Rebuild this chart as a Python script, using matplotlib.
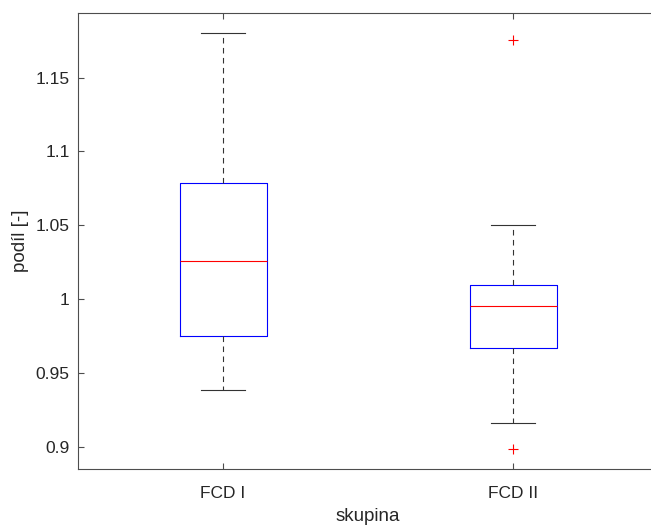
import matplotlib
matplotlib.use("Agg")
import matplotlib.pyplot as plt

groups = ["FCD I", "FCD II"]
q1 = [0.975, 0.967]
med = [1.0255, 0.995]
q3 = [1.0785, 1.0095]
whislo = [0.938, 0.916]
whishi = [1.18, 1.050]
outliers = [[], [1.1755, 0.8985]]

plt.rcParams["font.family"] = ["Liberation Sans", "DejaVu Sans"]

fig = plt.figure(figsize=(6.51, 5.25), dpi=100)
ax = fig.add_axes([78 / 651, 1 - 469 / 525, 580 / 651, 456 / 525])

stats = []
for i, name in enumerate(groups):
    stats.append({
        "label": name, "q1": q1[i], "med": med[i], "q3": q3[i],
        "whislo": whislo[i], "whishi": whishi[i], "fliers": outliers[i],
    })

ax.bxp(stats, positions=[1, 2], widths=0.3, showfliers=True,
       boxprops=dict(color="#0000ff", linewidth=0.8),
       medianprops=dict(color="#ff0000", linewidth=0.8),
       whiskerprops=dict(color="#333333", linewidth=0.8, linestyle=(0, (5, 4))),
       capprops=dict(color="#333333", linewidth=0.8),
       flierprops=dict(marker="+", markeredgecolor="#ff0000", markersize=7,
                       markeredgewidth=0.8, linestyle="none"),
       capwidths=0.15)

ax.set_xlim(0.5, 2.5)
ax.set_ylim(0.8848, 1.1938)
ax.set_yticks([0.9, 0.95, 1.0, 1.05, 1.1, 1.15])
ax.set_yticklabels(["0.9", "0.95", "1", "1.05", "1.1", "1.15"])
ax.set_xticks([1, 2])
ax.set_xticklabels(groups)

for s in ax.spines.values():
    s.set_color("#4d4d4d")
    s.set_linewidth(0.8)
ax.tick_params(direction="in", length=4, width=0.8, colors="#4d4d4d",
               labelcolor="#262626", labelsize=12.5, top=True, right=True, pad=6)
ax.tick_params(axis="x", pad=12)
ax.set_xlabel("skupina", fontsize=13.5, color="#262626", labelpad=5)
ax.set_ylabel("podíl [-]", fontsize=13.5, color="#262626", labelpad=5)

fig.savefig("out.png", dpi=100)
